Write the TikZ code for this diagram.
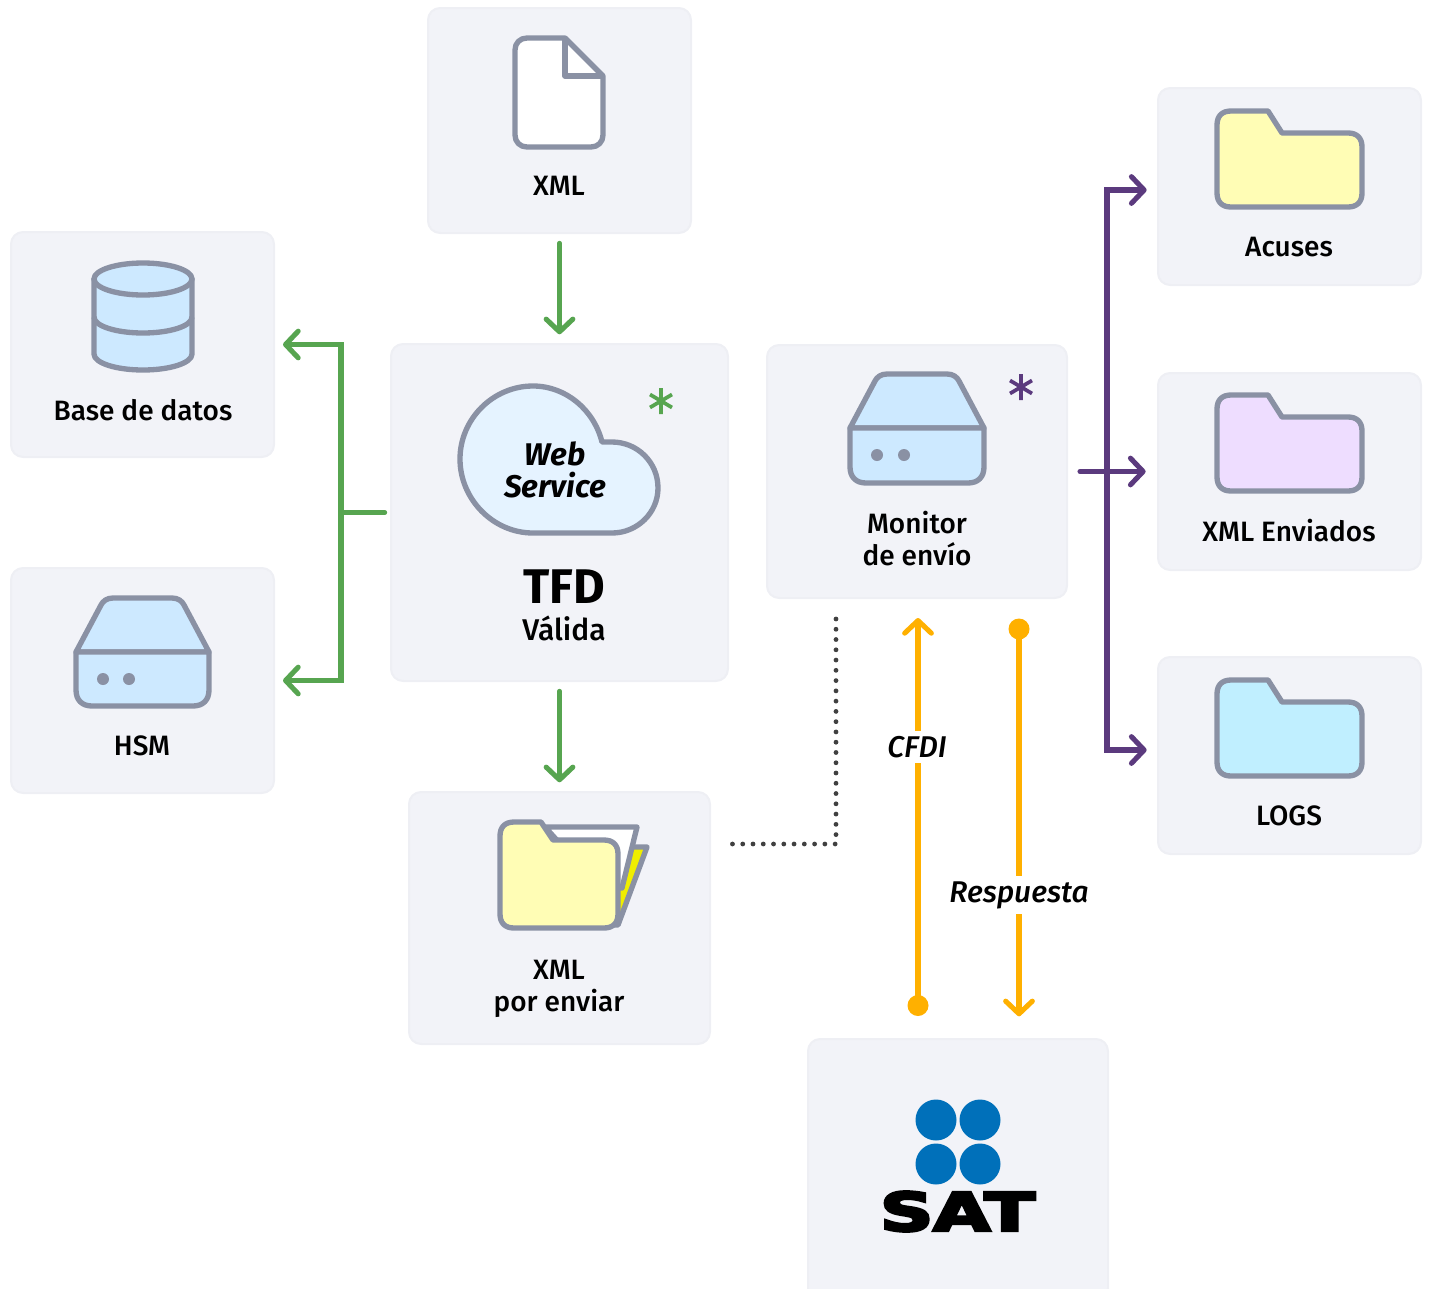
\documentclass[tikz,border=0pt]{standalone}
\usepackage{fontspec}
\usepackage{xcolor}
\usetikzlibrary{arrows.meta}
\setmainfont{Fira Sans Medium}[ItalicFont={Fira Sans Medium Italic},BoldFont={Fira Sans Bold},BoldItalicFont={Fira Sans Bold Italic}]
\newfontfamily\satfont{DejaVu Sans Bold}[FakeBold=5]
\definecolor{cardfill}{HTML}{F2F3F8}
\definecolor{cardedge}{HTML}{EEEFF4}
\definecolor{icongray}{HTML}{8A91A4}
\definecolor{flowgreen}{HTML}{57A550}
\definecolor{flowpurple}{HTML}{5B3A7E}
\definecolor{floworange}{HTML}{FFB000}
\definecolor{drivefill}{HTML}{CDE9FF}
\definecolor{cloudfill}{HTML}{E5F3FF}
\definecolor{folderyellow}{HTML}{FFFDB5}
\definecolor{folderlilac}{HTML}{EEDDFF}
\definecolor{foldercyan}{HTML}{C0EFFF}
\definecolor{sheetyellow}{HTML}{F0EE00}
\definecolor{satblue}{HTML}{0070BA}
\tikzset{
  every picture/.style={line width=0.75pt},
  card/.style 2 args={draw=cardedge,fill=cardfill,rounded corners=9pt,line width=1.5pt,
    minimum width=#1*0.75pt,minimum height=#2*0.75pt,inner sep=0pt},
  icon/.style={draw=icongray,line width=4pt,line join=round},
  label/.style={font=\fontsize{21}{24}\selectfont,align=center,inner sep=0pt},
  flowlabel/.style={font=\fontsize{22.5}{24}\selectfont\itshape,fill=white,inner sep=4pt},
  barb/.style={-{Straight Barb[round,length=9.5pt,width=20pt]}},
  flow/.style={line width=3.8pt,line cap=round},
  star/.style={line width=2.8pt,line cap=butt},
  dotline/.style={draw=black!75,line width=3.6pt,line cap=round,dash pattern=on 0pt off 7.7pt}
}
\begin{document}
\begin{tikzpicture}[x=0.75pt,y=0.75pt,yscale=-1,xscale=1]
\path[use as bounding box] (0,0) rectangle (1429,1289);

%Cards
\node[card={263}{225}] (xml) at (559.5,120.5) {};
\node[card={263}{225}] (basedatos) at (142.5,344.5) {};
\node[card={263}{225}] (hsm) at (142.5,680.5) {};
\node[card={337}{337}] (tfd) at (559.5,512.5) {};
\node[card={301}{252}] (porenviar) at (559.5,918) {};
\node[card={300}{253}] (monitor) at (917,471.5) {};
\node[card={300}{262}] (sat) at (958,1170) {};
\node[card={263}{197}] (acuses) at (1289.5,186.5) {};
\node[card={263}{197}] (enviados) at (1289.5,471.5) {};
\node[card={263}{197}] (logs) at (1289.5,755.5) {};

%Shape: Document
\draw[icon,fill=white] (565,38) -- (527,38) .. controls (520,38) and (515,43) .. (515,50) -- (515,135) .. controls (515,142) and (520,147) .. (527,147) -- (591,147) .. controls (598,147) and (603,142) .. (603,135) -- (603,76) -- cycle;
\draw[icon] (565,38) -- (565,76) -- (603,76);

%Shape: Database
\draw[icon,fill=drivefill] (94,279) -- (94,354) .. controls (94,363) and (116,370) .. (143,370) .. controls (170,370) and (192,363) .. (192,354) -- (192,279) -- cycle;
\draw[icon] (94,317) .. controls (94,326) and (116,333) .. (143,333) .. controls (170,333) and (192,326) .. (192,317);
\draw[icon,fill=drivefill] (143,279) ellipse (49 and 16);

%Shape: Drive HSM
\draw[icon,fill=drivefill] (76,652) -- (101,605) .. controls (103,601) and (107,598) .. (113,598) -- (172,598) .. controls (178,598) and (182,601) .. (184,605) -- (209,652) -- cycle;
\draw[icon,fill=drivefill] (76,652) -- (76,690) .. controls (76,700) and (82,706) .. (92,706) -- (193,706) .. controls (203,706) and (209,700) .. (209,690) -- (209,652) -- cycle;
\fill[icongray] (103,679) circle (6);
\fill[icongray] (129,679) circle (6);

%Shape: Drive Monitor
\draw[icon,fill=drivefill] (850,428) -- (875,381) .. controls (877,377) and (881,374) .. (887,374) -- (947,374) .. controls (953,374) and (957,377) .. (959,381) -- (984,428) -- cycle;
\draw[icon,fill=drivefill] (850,428) -- (850,467) .. controls (850,477) and (856,483) .. (866,483) -- (968,483) .. controls (978,483) and (984,477) .. (984,467) -- (984,428) -- cycle;
\fill[icongray] (877,455) circle (6);
\fill[icongray] (904,455) circle (6);

%Shape: Cloud
\draw[icon,fill=cloudfill] (602,442) .. controls (594,410) and (566,386) .. (533,386) .. controls (493,386) and (460,419) .. (460,459) .. controls (460,499) and (493,533) .. (533,533) -- (612,533) .. controls (637,533) and (658,513) .. (658,488) .. controls (658,462) and (637,442) .. (612,442) -- cycle;

%Shape: Folders
\draw[icon,fill=folderyellow] (1217,193) -- (1217,125) .. controls (1217,116) and (1222,111) .. (1231,111) -- (1268,111) -- (1282,133) -- (1348,133) .. controls (1357,133) and (1362,138) .. (1362,147) -- (1362,193) .. controls (1362,202) and (1357,207) .. (1348,207) -- (1231,207) .. controls (1222,207) and (1217,202) .. (1217,193) -- cycle;
\draw[icon,fill=folderlilac] (1217,477) -- (1217,409) .. controls (1217,400) and (1222,395) .. (1231,395) -- (1268,395) -- (1282,417) -- (1348,417) .. controls (1357,417) and (1362,422) .. (1362,431) -- (1362,477) .. controls (1362,486) and (1357,491) .. (1348,491) -- (1231,491) .. controls (1222,491) and (1217,486) .. (1217,477) -- cycle;
\draw[icon,fill=foldercyan] (1217,762) -- (1217,694) .. controls (1217,685) and (1222,680) .. (1231,680) -- (1268,680) -- (1282,702) -- (1348,702) .. controls (1357,702) and (1362,707) .. (1362,716) -- (1362,762) .. controls (1362,771) and (1357,776) .. (1348,776) -- (1231,776) .. controls (1222,776) and (1217,771) .. (1217,762) -- cycle;

%Shape: Open folder
\draw[icon,fill=sheetyellow] (625,847) -- (647,847) -- (618,925) -- (610,925) -- cycle;
\draw[icon,fill=white] (545,827) -- (637,827) -- (622,888) -- (600,888) -- cycle;
\draw[icon,fill=folderyellow] (500,914) -- (500,836) .. controls (500,827) and (505,822) .. (514,822) -- (541,822) -- (553,840) -- (604,840) .. controls (613,840) and (618,845) .. (618,854) -- (618,914) .. controls (618,923) and (613,928) .. (604,928) -- (514,928) .. controls (505,928) and (500,923) .. (500,914) -- cycle;

%Shape: Asterisks
\draw[star,flowgreen] (661,388) -- (661,414) (650,394.5) -- (672,407.5) (650,407.5) -- (672,394.5);
\draw[star,flowpurple] (1021,374) -- (1021,400) (1010,380.5) -- (1032,393.5) (1010,393.5) -- (1032,380.5);

%Shape: SAT circles
\fill[satblue] (936,1120) circle (20.5);
\fill[satblue] (980,1120) circle (20.5);
\fill[satblue] (936,1164) circle (20.5);
\fill[satblue] (980,1164) circle (20.5);

% Text Node
\node[label] (xmltext) at (559,186) {XML};
\node[label] (basetext) at (143,410) {Base de datos};
\node[label] (hsmtext) at (142,746) {HSM};
\node[label,font=\fontsize{23.5}{24}\selectfont\bfseries\itshape] (webtext) at (555,470) {Web\\Service};
\node[label,font=\fontsize{36.5}{40}\selectfont\bfseries] (tfdtext) at (564,587) {TFD};
\node[label,font=\fontsize{22.5}{24}\selectfont] (validatext) at (564,628) {Válida};
\node[label] (monitortext) at (917,539) {Monitor\\de envío};
\node[label] (enviartext) at (559,989) {XML\\por enviar};
\node[label] (acusestext) at (1289,247) {Acuses};
\node[label] (enviadostext) at (1289,531) {XML Enviados};
\node[label] (logstext) at (1289,816) {LOGS};
\node[inner sep=0pt] (sattext) at (957.5,1211.5) {\resizebox{116pt}{29.5pt}{\satfont SAT}};

%Free ends
\coordinate (greenbus) at (341,512.5);
\coordinate (purplebus) at (1107,471.5);
\coordinate (acusesin) at (1158,190);
\coordinate (logsin) at (1158,750);
\coordinate (dotcorner) at (836,844);
\coordinate (dotend) at (710,844);
\coordinate (cfdistart) at (918,1005);
\coordinate (cfditop) at (918,598);
\coordinate (resptop) at (1019,629);
\coordinate (respend) at (1019,1039);

%Green connectors
\draw[flow,barb,flowgreen,shorten <=7pt,shorten >=6.5pt] (xml) -- (tfd);
\draw[flow,barb,flowgreen,shorten <=7pt,shorten >=6.5pt] (tfd) -- (porenviar);
\draw[flow,flowgreen,shorten <=4pt] (tfd.west) -- (greenbus);
\draw[flow,barb,flowgreen,shorten >=6pt] (greenbus) -- (greenbus |- basedatos) -- (basedatos.east);
\draw[flow,barb,flowgreen,shorten >=6pt] (greenbus) -- (greenbus |- hsm) -- (hsm.east);

%Purple connectors
\draw[flow,barb,flowpurple,shorten >=8.5pt] (purplebus) -- (purplebus |- acusesin) -- (acusesin);
\draw[flow,barb,flowpurple,shorten >=8.5pt] (purplebus) -- (purplebus |- logsin) -- (logsin);
\draw[flow,barb,flowpurple,shorten <=9pt,shorten >=8.5pt] (monitor.east) -- (enviados.west);

%Dotted connector
\draw[dotline,shorten <=15pt,shorten >=11pt] (monitor.south -| dotcorner) -- (dotcorner) -- (dotend);

%Orange connectors
\draw[flow,barb,floworange,shorten >=15pt] (cfdistart) -- (cfditop);
\fill[floworange] (918,1005.5) circle (10.5);
\draw[flow,barb,floworange,shorten >=17pt] (resptop) -- (respend);
\fill[floworange] (1019,629) circle (10.5);
\node[flowlabel] (cfditext) at (917,747) {CFDI};
\node[flowlabel] (resptext) at (1019,895) {Respuesta};

\end{tikzpicture}
\end{document}
